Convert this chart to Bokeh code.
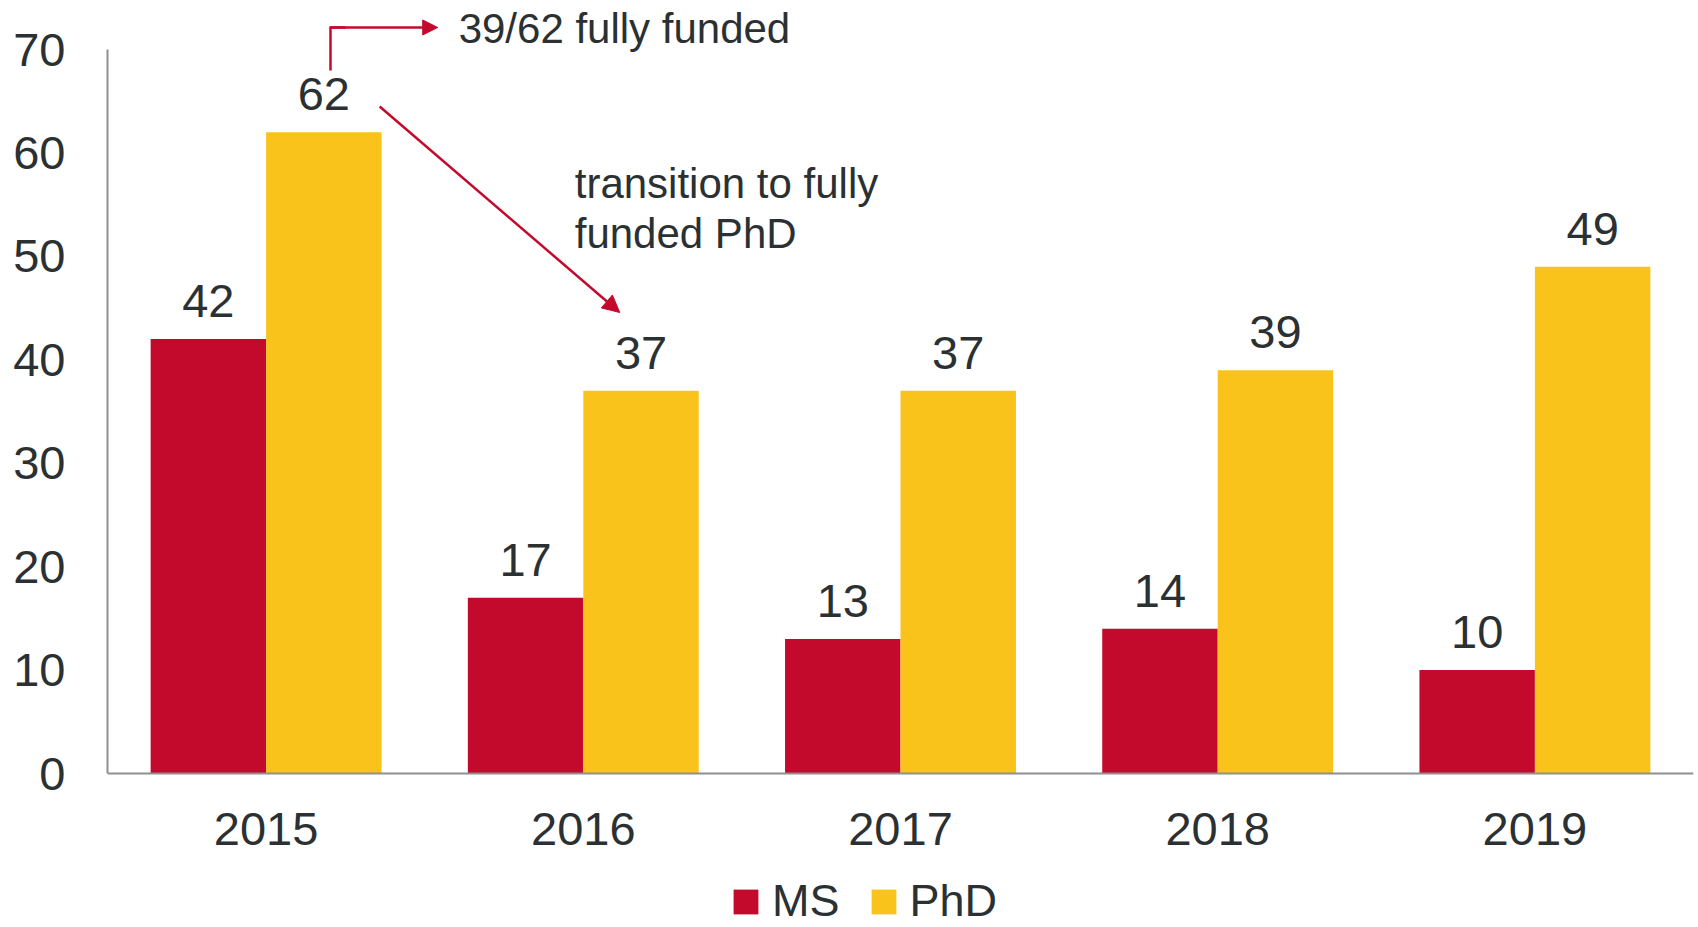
from bokeh.plotting import figure
from bokeh.models import (FactorRange, Range1d, ColumnDataSource, Legend, LegendItem,
                          Arrow, NormalHead, FixedTicker)
from bokeh.transform import dodge
from bokeh.core.properties import value
from bokeh.embed import file_html
from bokeh.resources import INLINE

# ---- data ----
years = ["2015", "2016", "2017", "2018", "2019"]
ms = [42, 17, 13, 14, 10]
phd = [62, 37, 37, 39, 49]
y_ticks = [0, 10, 20, 30, 40, 50, 60, 70]
series = ["MS", "PhD"]
note_funded = "39/62 fully funded"
note_transition = ["transition to fully", "funded PhD"]

# ---- style ----
RED = "#C30A2C"
YELLOW = "#F9C31C"
TEXT = "#2B3133"
AXIS = "#8F8F8F"
FONT = "Liberation Sans"

W, H = 1698, 927
base_px = 773   # canvas y of value 0
top_px = 49     # canvas y of value 70
k = (base_px - top_px) / 70.0
y_start = -(H - base_px) / k
y_end = base_px / k

p = figure(width=W, height=H,
           x_range=FactorRange(factors=years, range_padding=0),
           y_range=Range1d(y_start, y_end),
           output_backend="svg", toolbar_location=None,
           min_border_left=107, min_border_right=5, min_border_top=0, min_border_bottom=0)
p.outline_line_color = None
p.xgrid.visible = False
p.ygrid.visible = False
p.background_fill_color = "white"

src = ColumnDataSource(dict(year=years, ms=ms, phd=phd,
                            ms_lbl=[str(v) for v in ms], phd_lbl=[str(v) for v in phd]))

bw = 0.364
r_ms = p.vbar(x=dodge("year", -bw / 2, range=p.x_range), top="ms", width=bw, source=src,
              fill_color=RED, line_color=None)
r_phd = p.vbar(x=dodge("year", bw / 2, range=p.x_range), top="phd", width=bw, source=src,
               fill_color=YELLOW, line_color=None)

lbl_kw = dict(text_align="center", text_baseline="alphabetic", text_font=value(FONT),
              text_font_size="47px", text_color=TEXT, y_offset=-38)
p.text(x=dodge("year", -bw / 2, range=p.x_range), y="ms", text="ms_lbl", source=src, **lbl_kw)
p.text(x=dodge("year", bw / 2, range=p.x_range), y="phd", text="phd_lbl", source=src, **lbl_kw)

# ---- annotations ----
note_kw = dict(text_align="left", text_baseline="alphabetic", text_font=value(FONT),
               text_font_size="42px", text_color=TEXT, y_offset=-15)
p.text(x=[1.107], y=[70.58], text=[note_funded], **note_kw)
p.text(x=[1.473, 1.473], y=[55.59, 50.76], text=note_transition, **note_kw)

# elbow arrow
p.line(x=[0.703, 0.703, 0.75], y=[67.97, 72.13, 72.13], line_color=RED, line_width=2.5,
       line_join="miter")
p.add_layout(Arrow(x_start=0.703, y_start=72.13, x_end=1.041, y_end=72.13,
                   line_color=RED, line_width=2.5,
                   end=NormalHead(size=15, fill_color=RED, line_color=RED)))
# diagonal arrow
p.add_layout(Arrow(x_start=0.858, y_start=64.49, x_end=1.615, y_end=44.57,
                   line_color=RED, line_width=2.5,
                   end=NormalHead(size=17, fill_color=RED, line_color=RED)))

# ---- axes ----
ya = p.yaxis[0]
ya.ticker = FixedTicker(ticks=y_ticks)
ya.bounds = (0, 70)
ya.axis_line_color = AXIS
ya.axis_line_width = 2
ya.major_tick_line_color = None
ya.minor_tick_line_color = None
ya.major_tick_out = 0
ya.major_label_standoff = 42
ya.major_label_text_font = FONT
ya.major_label_text_font_size = "47px"
ya.major_label_text_color = TEXT

xa = p.xaxis[0]
xa.fixed_location = 0
xa.axis_line_color = AXIS
xa.axis_line_width = 2
xa.major_tick_line_color = None
xa.minor_tick_line_color = None
xa.major_tick_out = 0
xa.major_label_standoff = 39
xa.major_label_text_font = FONT
xa.major_label_text_font_size = "47px"
xa.major_label_text_color = TEXT

# ---- legend ----
legend = Legend(items=[LegendItem(label=series[0], renderers=[r_ms]),
                       LegendItem(label=series[1], renderers=[r_phd])],
                orientation="horizontal", location=(623, 0),
                glyph_width=31, glyph_height=31, label_standoff=11, spacing=28,
                padding=0, margin=0, border_line_color=None, background_fill_alpha=0,
                label_text_font=FONT, label_text_font_size="45px", label_text_color=TEXT)
p.add_layout(legend, "center")

open("out.html", "w").write(file_html(p, INLINE))
